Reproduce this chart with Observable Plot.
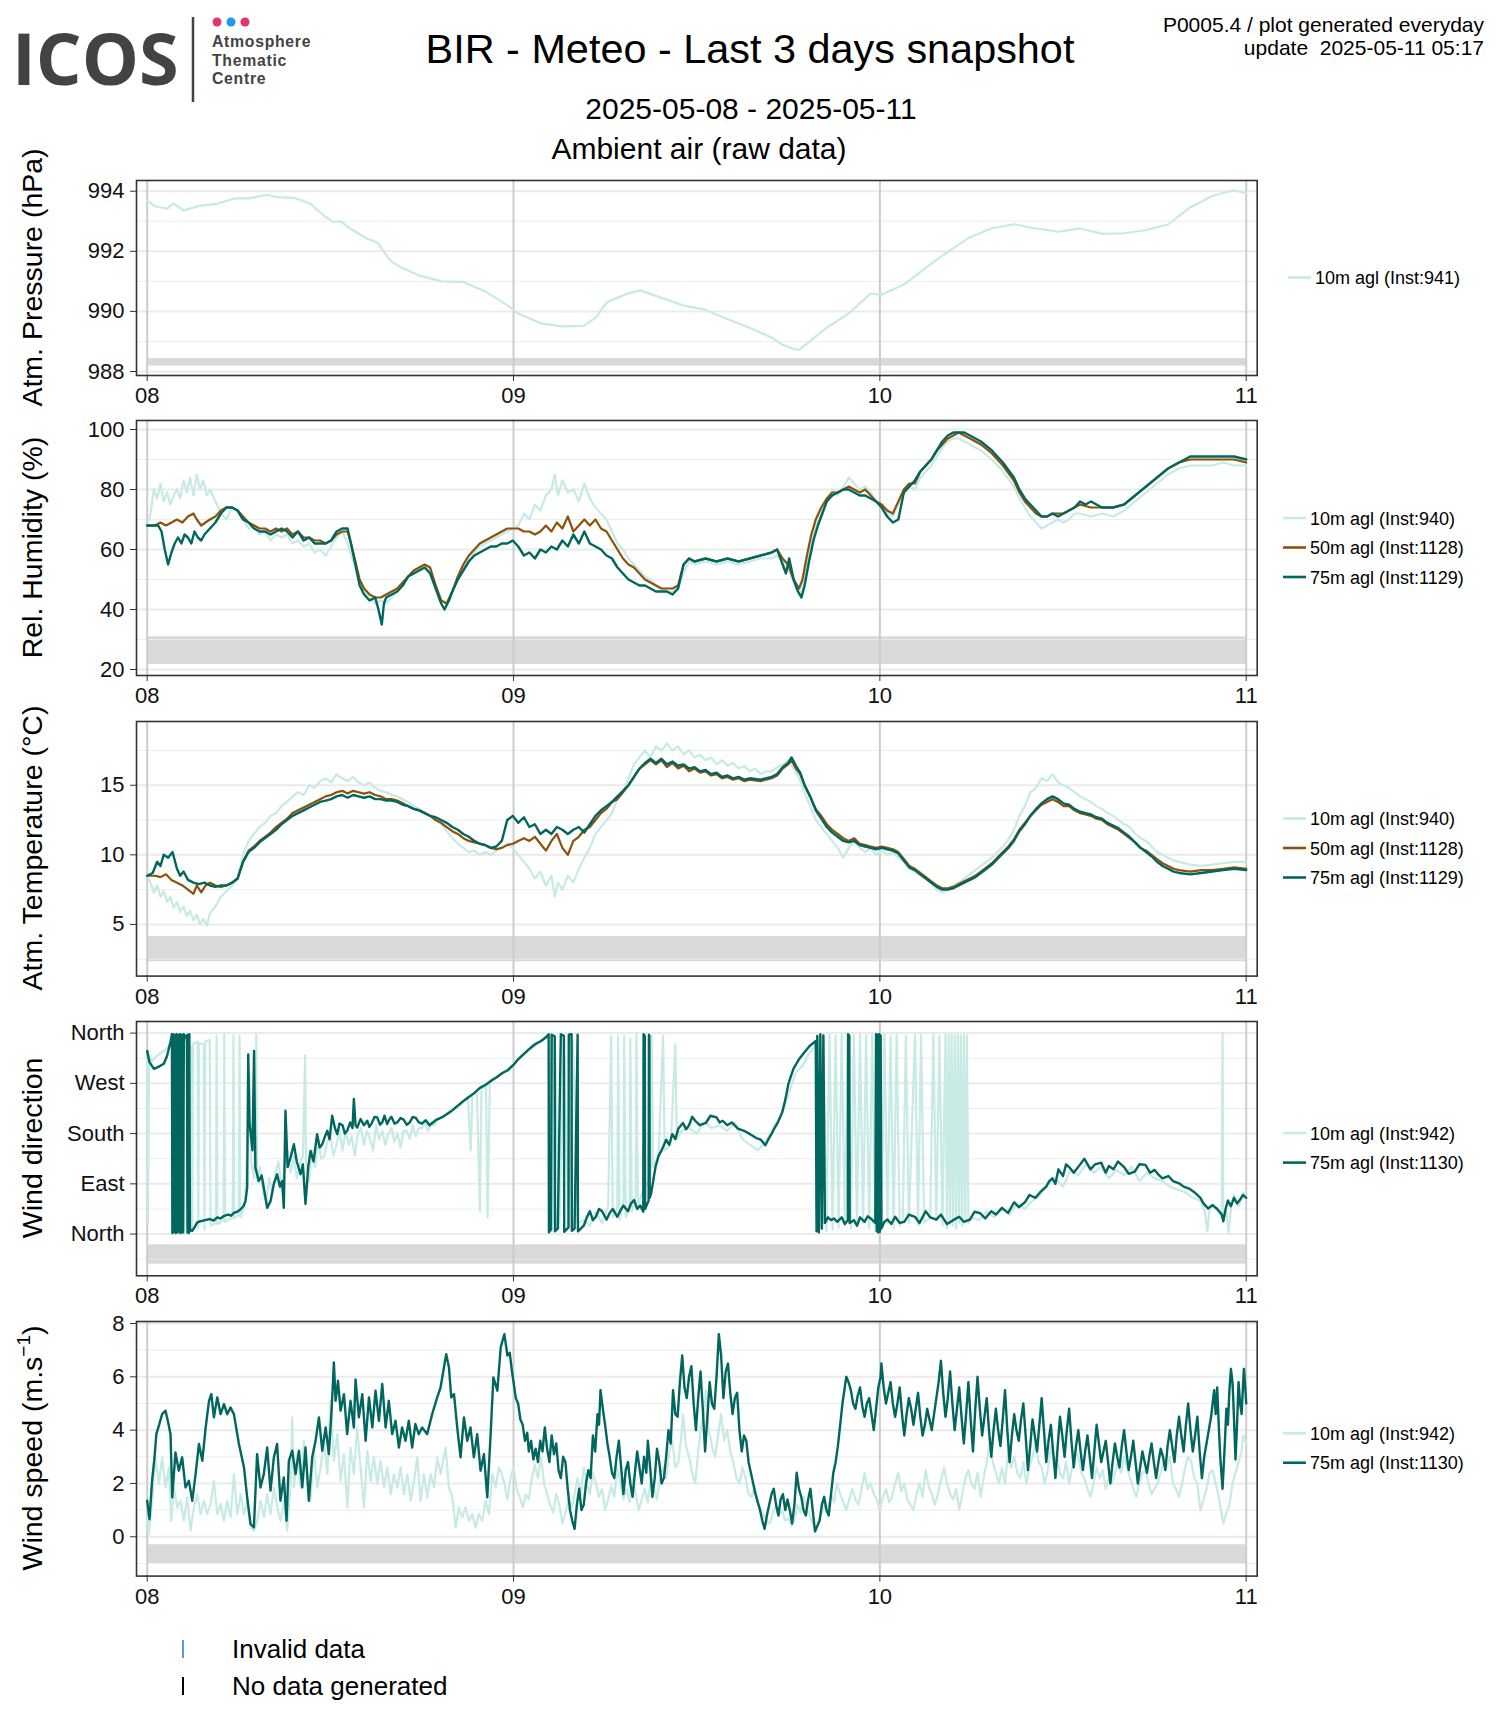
<!DOCTYPE html>
<html><head><meta charset="utf-8">
<script src="https://cdn.jsdelivr.net/npm/d3@7"></script>
<script src="https://cdn.jsdelivr.net/npm/@observablehq/plot@0.6"></script>
<style>
body{margin:0;background:#fff;}
#page{position:relative;width:1500px;height:1725px;overflow:hidden;background:#fff;font-family:"Liberation Sans",Arial,sans-serif;}
#page svg{position:absolute;left:0;}
</style></head><body><div id="page"></div>
<script>
// ---------- axis / category data ----------
const dayTicks = [0, 24, 48, 72];
const dayLabels = ["08", "09", "10", "11"];
const presTicks = [988, 990, 992, 994], presMinor = [989, 991, 993], presBand = [988.18, 988.43];
const rhTicks = [20, 40, 60, 80, 100], rhMinor = [30, 50, 70, 90], rhBand = [21.7, 30.9];
const tempTicks = [5, 10, 15], tempMinor = [2.5, 7.5, 12.5, 17.5], tempBand = [2.32, 4.14];
const dirTicks = [0, 90, 180, 270, 360], dirLabels = ["North", "East", "South", "West", "North"], dirMinor = [-45, 45, 135, 225, 315], dirBand = [-53.8, -19.2];
const wsTicks = [0, 2, 4, 6, 8], wsMinor = [-1, 1, 3, 5, 7], wsBand = [-1.02, -0.3];
const legendPres = ["10m agl (Inst:941)"];
const legendRH = ["10m agl (Inst:940)", "50m agl (Inst:1128)", "75m agl (Inst:1129)"];
const legendTemp = ["10m agl (Inst:940)", "50m agl (Inst:1128)", "75m agl (Inst:1129)"];
const legendWind = ["10m agl (Inst:942)", "75m agl (Inst:1130)"];

// ---------- series: [hours since 2025-05-08 00:00, value] ----------
const pres10 = [[0,993.69],[0.5,993.5],[1.31,993.42],[1.72,993.59],[2.38,993.36],[3.49,993.52],[4.57,993.58],[5.66,993.75],[6.77,993.77],[7.86,993.88],[8.52,993.8],[9.6,993.78],[10.7,993.58],[11.57,993.19],[12.2,992.97],[12.67,993.0],[13.32,992.75],[14.42,992.42],[15.07,992.3],[15.94,991.69],[16.6,991.47],[17.8,991.2],[19.3,991.0],[20.7,990.98],[22.2,990.65],[23.6,990.2],[24.3,989.93],[25.8,989.6],[27.2,989.5],[28.6,989.52],[29.4,989.8],[30.1,990.3],[31.5,990.6],[32.3,990.7],[33.7,990.45],[35.1,990.2],[36.6,990.05],[38.0,989.75],[39.5,989.45],[40.9,989.13],[41.6,988.9],[42.35,988.75],[42.7,988.72],[43.4,989.0],[44.5,989.45],[45.96,989.93],[47.4,990.6],[48.1,990.55],[49.6,990.9],[51.0,991.45],[52.5,992.0],[53.9,992.47],[55.3,992.76],[56.8,992.9],[58.2,992.76],[59.7,992.65],[61.1,992.76],[62.6,992.58],[64.0,992.6],[65.4,992.7],[66.9,992.9],[68.3,993.45],[69.8,993.85],[71.2,994.03],[72,993.93]];

const rh10 = [[0,68],[0.22,72],[0.43,80],[0.65,77],[0.87,82],[1.08,76],[1.3,79],[1.52,75],[1.73,78],[1.95,80],[2.16,77],[2.38,83],[2.6,79],[2.81,84],[3.03,78],[3.25,85],[3.46,80],[3.68,83],[3.9,78],[4.11,80],[4.47,76],[4.83,72],[5.19,70],[5.56,74],[5.92,73],[6.28,70],[6.64,67],[7.0,68],[7.36,65],[7.72,66],[8.08,63],[8.44,65],[8.8,64],[9.16,65],[9.52,62],[9.88,63],[10.25,61],[10.61,62],[10.97,59],[11.33,60],[11.69,58],[12.05,61],[12.41,64],[12.77,66],[13.13,62],[13.49,56],[13.85,50],[14.21,46],[14.57,44],[14.94,42],[15.3,43],[15.66,42],[16.02,44],[16.38,46],[16.74,48],[17.1,51],[17.46,53],[17.82,54],[18.18,55],[18.54,53],[18.9,48],[19.26,43],[19.62,42],[19.99,46],[20.35,50],[20.71,54],[21.07,57],[21.43,59],[21.79,61],[22.15,62],[22.51,63],[22.87,64],[23.23,65],[23.59,66],[23.95,67],[24.31,68],[24.68,72],[25.04,70],[25.4,75],[25.76,73],[26.12,78],[26.48,80],[26.7,85],[26.91,78],[27.2,83],[27.56,79],[27.92,80],[28.28,76],[28.64,82],[29.0,77],[29.37,74],[29.73,72],[30.09,70],[30.45,66],[30.81,62],[31.17,60],[31.53,57],[31.89,55],[32.25,53],[32.61,51],[32.97,50],[33.33,48],[33.69,47],[34.05,46],[34.42,46],[34.78,47],[35.14,52],[35.5,56],[35.86,55],[36.58,56],[37.3,55],[38.02,56],[38.74,55],[39.47,56],[40.19,57],[40.91,57],[41.27,58],[41.63,56],[41.99,54],[42.35,49],[42.71,45],[42.93,47],[43.22,55],[43.51,62],[43.8,68],[44.16,72],[44.52,76],[44.88,80],[45.24,78],[45.6,81],[45.96,84],[46.32,82],[46.68,80],[47.04,81],[47.4,79],[47.76,76],[48.12,74],[48.48,72],[48.85,71],[49.21,75],[49.57,79],[49.93,81],[50.29,80],[50.65,84],[51.01,86],[51.37,88],[51.73,91],[52.09,94],[52.45,96],[52.81,97],[53.17,97],[53.53,96],[53.9,95],[54.62,93],[55.34,90],[56.06,86],[56.78,81],[57.14,77],[57.5,74],[57.86,71],[58.23,69],[58.59,67],[58.95,68],[59.31,69],[59.67,70],[60.03,69],[60.39,70],[60.75,72],[61.11,72],[61.83,71],[62.55,72],[63.28,71],[64.0,73],[64.72,76],[65.44,79],[66.16,82],[66.88,85],[67.6,87],[68.33,88],[69.05,88],[69.77,88],[70.49,89],[71.21,88],[72,88]];

const rh50 = [[0,68],[0.51,68],[0.87,69],[1.23,68],[1.59,69],[1.95,70],[2.31,69],[2.67,71],[3.03,72],[3.25,70],[3.54,68],[3.82,69],[4.11,70],[4.47,71],[4.83,73],[5.19,74],[5.56,74],[5.92,73],[6.28,71],[6.64,69],[7.0,68],[7.36,67],[7.72,67],[8.08,66],[8.44,67],[8.8,66],[9.16,67],[9.52,65],[9.88,66],[10.25,64],[10.61,64],[10.97,63],[11.33,63],[11.69,62],[12.05,63],[12.41,65],[12.77,66],[13.13,66],[13.35,62],[13.64,56],[13.92,50],[14.21,47],[14.57,45],[14.94,44],[15.3,44],[15.66,45],[16.02,46],[16.38,47],[16.74,49],[17.1,51],[17.46,53],[17.82,54],[18.18,55],[18.54,54],[18.9,48],[19.26,43],[19.62,42],[19.99,46],[20.35,51],[20.71,55],[21.07,58],[21.43,60],[21.79,62],[22.15,63],[22.51,64],[22.87,65],[23.23,66],[23.59,67],[23.95,67],[24.31,67],[24.68,66],[25.04,66],[25.4,65],[25.76,66],[26.12,68],[26.48,66],[26.84,69],[27.2,67],[27.56,71],[27.92,66],[28.28,68],[28.64,70],[29.0,68],[29.37,70],[29.73,67],[30.09,66],[30.45,63],[30.81,60],[31.17,57],[31.53,55],[31.89,54],[32.25,52],[32.61,50],[32.97,49],[33.33,48],[33.69,47],[34.05,47],[34.42,47],[34.78,48],[35.14,55],[35.5,57],[35.86,56],[36.58,57],[37.3,56],[38.02,57],[38.74,56],[39.47,57],[40.19,58],[40.91,59],[41.27,60],[41.63,57],[41.99,55],[42.35,50],[42.71,47],[42.93,50],[43.22,58],[43.51,65],[43.8,70],[44.16,74],[44.52,77],[44.88,79],[45.24,79],[45.6,80],[45.96,81],[46.32,80],[46.68,79],[47.04,80],[47.4,78],[47.76,76],[48.12,75],[48.48,73],[48.85,72],[49.21,76],[49.57,80],[49.93,82],[50.29,82],[50.65,86],[51.01,88],[51.37,90],[51.73,93],[52.09,95],[52.45,97],[52.81,98],[53.17,99],[53.53,98],[53.9,97],[54.62,95],[55.34,92],[56.06,88],[56.78,83],[57.14,79],[57.5,76],[57.86,74],[58.23,72],[58.59,71],[58.95,71],[59.31,72],[59.67,72],[60.03,72],[60.39,73],[60.75,74],[61.11,75],[61.83,74],[62.55,74],[63.28,74],[64.0,75],[64.72,78],[65.44,81],[66.16,84],[66.88,87],[67.6,89],[68.33,90],[69.05,90],[69.77,90],[70.49,90],[71.21,90],[72,89]];

const rh75 = [[0,68],[0.36,68],[0.72,68],[0.94,66],[1.15,60],[1.37,55],[1.59,59],[1.8,62],[2.02,64],[2.24,62],[2.45,65],[2.67,64],[2.89,62],[3.1,66],[3.32,64],[3.54,63],[3.75,65],[4.11,67],[4.47,69],[4.83,72],[5.19,74],[5.56,74],[5.92,73],[6.28,70],[6.64,69],[7.0,67],[7.36,66],[7.72,66],[8.08,65],[8.44,66],[8.8,67],[9.16,66],[9.52,64],[9.88,66],[10.25,63],[10.61,64],[10.97,62],[11.33,62],[11.69,62],[12.05,63],[12.41,66],[12.77,67],[13.13,67],[13.35,62],[13.64,55],[13.92,48],[14.21,45],[14.57,43],[14.94,44],[15.15,40],[15.37,35],[15.51,42],[15.66,44],[16.02,45],[16.38,46],[16.74,48],[17.1,51],[17.46,52],[17.82,53],[18.18,54],[18.54,52],[18.9,47],[19.26,42],[19.48,40],[19.77,43],[19.99,46],[20.35,50],[20.71,53],[21.07,56],[21.43,58],[21.79,59],[22.15,60],[22.51,61],[22.87,61],[23.23,62],[23.59,62],[23.95,63],[24.31,61],[24.68,58],[25.04,59],[25.4,57],[25.76,60],[26.12,59],[26.48,61],[26.84,60],[27.2,63],[27.56,61],[27.92,65],[28.28,62],[28.64,66],[29.0,62],[29.37,61],[29.73,60],[30.09,58],[30.45,57],[30.81,54],[31.17,52],[31.53,50],[31.89,49],[32.25,48],[32.61,48],[32.97,47],[33.33,46],[33.69,46],[34.05,46],[34.42,45],[34.78,47],[35.14,55],[35.5,57],[35.86,56],[36.58,57],[37.3,56],[38.02,57],[38.74,56],[39.47,57],[40.19,58],[40.91,59],[41.27,60],[41.63,55],[41.85,52],[42.06,57],[42.35,50],[42.64,46],[42.86,44],[43.07,48],[43.36,56],[43.65,63],[43.94,68],[44.23,72],[44.52,76],[44.88,78],[45.24,79],[45.6,80],[45.96,80],[46.32,79],[46.68,78],[47.04,78],[47.4,77],[47.76,76],[48.12,74],[48.48,71],[48.85,69],[49.21,70],[49.57,79],[49.93,81],[50.29,83],[50.65,86],[51.01,88],[51.37,90],[51.73,93],[52.09,96],[52.45,98],[52.81,99],[53.17,99],[53.53,99],[53.9,98],[54.62,96],[55.34,93],[56.06,89],[56.78,84],[57.14,80],[57.5,77],[57.86,75],[58.23,73],[58.59,71],[58.95,71],[59.31,72],[59.67,71],[60.03,72],[60.39,73],[60.75,74],[61.11,76],[61.47,75],[61.83,76],[62.55,74],[63.28,74],[64.0,75],[64.72,78],[65.44,81],[66.16,84],[66.88,87],[67.6,89],[68.33,91],[69.05,91],[69.77,91],[70.49,91],[71.21,91],[72,90]];

const temp10 = [[0,8.5],[0.22,8],[0.43,7.3],[0.65,7.8],[0.87,7],[1.08,7.4],[1.3,6.6],[1.52,7],[1.73,6.2],[1.95,6.6],[2.16,5.9],[2.38,6.3],[2.6,5.6],[2.81,6],[3.03,5.3],[3.25,5.7],[3.46,5],[3.68,5.4],[3.9,4.9],[4.11,5.8],[4.47,6.3],[4.83,7],[5.19,7.4],[5.56,7.8],[5.92,8.3],[6.28,10],[6.64,11],[7.0,11.5],[7.36,12],[7.72,12.3],[8.08,12.8],[8.44,13],[8.8,13.5],[9.16,13.8],[9.52,14.2],[9.88,14.5],[10.25,14.3],[10.61,15],[10.97,14.8],[11.33,15.3],[11.69,15.5],[12.05,15.2],[12.41,15.8],[12.77,15.5],[13.13,15.3],[13.49,15.6],[13.85,15.2],[14.21,15],[14.57,15.2],[14.94,14.8],[15.3,14.6],[15.66,14.5],[16.02,14.3],[16.38,14.2],[16.74,14],[17.1,13.8],[17.46,13.5],[17.82,13.3],[18.18,13],[18.54,12.8],[18.9,12.5],[19.26,12.2],[19.62,11.7],[19.99,11.2],[20.35,10.8],[20.71,10.5],[21.07,10.2],[21.43,10.3],[21.79,10],[22.15,10.2],[22.51,10],[22.87,10.3],[23.23,10.5],[23.59,10.8],[23.95,10.5],[24.31,10],[24.68,9.5],[25.04,9],[25.4,8.3],[25.76,8.8],[26.12,7.8],[26.48,8.5],[26.7,7],[26.91,8],[27.2,7.5],[27.56,8.5],[27.92,8],[28.28,9],[28.64,9.8],[29.0,10.5],[29.37,11.5],[29.73,12],[30.09,12.5],[30.45,13],[30.81,14],[31.17,14.5],[31.53,15.5],[31.89,16.5],[32.25,17],[32.61,17.5],[32.97,17],[33.33,17.8],[33.69,17.5],[34.05,18],[34.42,17.5],[34.78,17.8],[35.14,17.2],[35.5,17.5],[35.86,17],[36.22,17.2],[36.58,16.8],[36.94,17],[37.3,16.5],[37.66,16.8],[38.02,16.4],[38.38,16.6],[38.74,16.2],[39.11,16.4],[39.47,16],[39.83,16.2],[40.19,15.8],[40.55,16],[40.91,16],[41.27,16.3],[41.63,16.5],[41.99,16.8],[42.35,16.2],[42.71,15.5],[43.07,14.5],[43.43,13.5],[43.8,12.5],[44.16,12],[44.52,11.5],[44.88,11],[45.24,10.5],[45.6,9.8],[45.96,10.5],[46.32,11],[46.68,10.5],[47.04,10.2],[47.4,10.5],[47.76,10],[48.12,10.3],[48.48,10],[48.85,10.2],[49.21,9.8],[49.57,9.5],[49.93,9],[50.29,8.8],[50.65,8.5],[51.01,8.3],[51.37,8],[51.73,7.5],[52.09,7.3],[52.45,7.5],[52.81,7.8],[53.17,8],[53.53,8.3],[53.9,8.6],[54.26,8.9],[54.62,9.2],[54.98,9.5],[55.34,9.8],[55.7,10.2],[56.06,10.6],[56.42,11.1],[56.78,11.8],[57.14,12.8],[57.5,13.5],[57.86,14.5],[58.23,14.8],[58.59,15.5],[58.95,15.3],[59.31,15.8],[59.67,15.2],[60.03,15],[60.39,14.8],[60.75,14.5],[61.11,14.2],[61.47,14],[61.83,13.8],[62.19,13.5],[62.55,13.3],[62.91,13],[63.28,12.8],[63.64,12.5],[64.0,12.2],[64.36,12],[64.72,11.5],[65.08,11.2],[65.44,11],[65.8,10.6],[66.16,10.2],[66.52,10],[66.88,9.8],[67.24,9.6],[67.6,9.5],[68.33,9.3],[69.05,9.2],[69.77,9.3],[70.49,9.4],[71.21,9.5],[72,9.5]];

const temp50 = [[0,8.5],[0.51,8.5],[0.87,8.4],[1.23,8.6],[1.59,8.2],[1.95,8],[2.31,7.8],[2.67,7.5],[3.03,7.2],[3.25,7.8],[3.54,7.3],[3.82,7.8],[4.11,8],[4.47,7.8],[4.83,7.7],[5.19,7.8],[5.56,8],[5.92,8.3],[6.28,9.5],[6.64,10.3],[7.0,10.6],[7.36,11],[7.72,11.3],[8.08,11.6],[8.44,12],[8.8,12.3],[9.16,12.6],[9.52,13],[9.88,13.2],[10.25,13.4],[10.61,13.6],[10.97,13.8],[11.33,14],[11.69,14.2],[12.05,14.3],[12.41,14.5],[12.77,14.6],[13.13,14.4],[13.49,14.6],[13.85,14.5],[14.21,14.4],[14.57,14.5],[14.94,14.3],[15.3,14.2],[15.66,14],[16.02,14],[16.38,13.9],[16.74,13.7],[17.1,13.5],[17.46,13.3],[17.82,13.2],[18.18,13],[18.54,12.8],[18.9,12.5],[19.26,12.3],[19.62,12],[19.99,11.7],[20.35,11.5],[20.71,11.2],[21.07,11],[21.43,10.9],[21.79,10.8],[22.15,10.7],[22.51,10.5],[22.87,10.4],[23.23,10.5],[23.59,10.7],[23.95,10.8],[24.31,11],[24.68,11.2],[25.04,11],[25.4,11.3],[25.76,10.8],[26.12,10.3],[26.48,11],[26.84,11.5],[27.2,10.5],[27.56,10],[27.92,11],[28.28,11.3],[28.64,11.8],[29.0,12],[29.37,12.5],[29.73,13],[30.09,13.3],[30.45,13.8],[30.81,14],[31.17,14.5],[31.53,15],[31.89,15.6],[32.25,16.2],[32.61,16.5],[32.97,16.8],[33.33,16.5],[33.69,16.8],[34.05,16.3],[34.42,16.6],[34.78,16.2],[35.14,16.4],[35.5,16],[35.86,16.2],[36.22,15.9],[36.58,16],[36.94,15.7],[37.3,15.8],[37.66,15.5],[38.02,15.6],[38.38,15.4],[38.74,15.5],[39.11,15.3],[39.47,15.4],[40.19,15.3],[40.91,15.5],[41.27,15.7],[41.63,16.2],[41.99,16.5],[42.21,16.8],[42.5,16.2],[42.78,15.8],[43.07,15],[43.43,14.2],[43.8,13.3],[44.16,12.8],[44.52,12.2],[44.88,11.8],[45.24,11.5],[45.6,11.2],[45.96,11],[46.32,11.2],[46.68,10.8],[47.04,10.7],[47.4,10.6],[47.76,10.5],[48.12,10.6],[48.48,10.5],[48.85,10.4],[49.21,10.2],[49.57,9.7],[49.93,9.2],[50.29,9],[50.65,8.7],[51.01,8.4],[51.37,8.1],[51.73,7.8],[52.09,7.6],[52.45,7.6],[52.81,7.7],[53.17,7.9],[53.53,8.1],[53.9,8.3],[54.26,8.5],[54.62,8.8],[54.98,9.1],[55.34,9.4],[55.7,9.8],[56.06,10.2],[56.42,10.6],[56.78,11.1],[57.14,11.8],[57.5,12.3],[57.86,12.8],[58.23,13.2],[58.59,13.6],[58.95,13.8],[59.31,14],[59.67,13.8],[60.03,13.5],[60.39,13.5],[60.75,13.2],[61.11,13],[61.47,12.9],[61.83,12.8],[62.19,12.6],[62.55,12.5],[62.91,12.2],[63.28,12],[63.64,11.8],[64.0,11.5],[64.36,11.2],[64.72,10.9],[65.08,10.5],[65.44,10.3],[65.8,10],[66.16,9.7],[66.52,9.4],[66.88,9.2],[67.24,9],[67.6,8.9],[68.33,8.8],[69.05,8.9],[69.77,8.9],[70.49,9],[71.21,9.1],[72,9]];

const temp75 = [[0,8.5],[0.36,8.7],[0.65,9.5],[0.87,9.2],[1.08,10],[1.37,9.8],[1.66,10.2],[1.95,9],[2.16,8.5],[2.38,8.8],[2.67,8.2],[3.03,8],[3.39,7.9],[3.75,8],[4.11,7.8],[4.47,7.7],[4.83,7.8],[5.19,7.8],[5.56,8],[5.92,8.3],[6.28,9.5],[6.64,10.2],[7.0,10.5],[7.36,10.9],[7.72,11.2],[8.08,11.5],[8.44,11.8],[8.8,12.2],[9.16,12.5],[9.52,12.8],[9.88,13],[10.25,13.2],[10.61,13.4],[10.97,13.6],[11.33,13.8],[11.69,13.9],[12.05,14],[12.41,14.2],[12.77,14.3],[13.13,14.1],[13.49,14.3],[13.85,14.2],[14.21,14.1],[14.57,14.2],[14.94,14],[15.3,14],[15.66,13.9],[16.02,13.9],[16.38,13.8],[16.74,13.6],[17.1,13.5],[17.46,13.3],[17.82,13.2],[18.18,13],[18.54,12.8],[18.9,12.7],[19.26,12.5],[19.62,12.3],[19.99,12],[20.35,11.8],[20.71,11.5],[21.07,11.3],[21.43,11],[21.79,10.8],[22.15,10.7],[22.51,10.5],[22.87,10.6],[23.23,11],[23.59,12.5],[23.95,12.8],[24.31,12.3],[24.68,12.7],[25.04,12],[25.4,12.2],[25.76,11.5],[26.12,11.8],[26.48,11.5],[26.84,12],[27.2,11.8],[27.56,11.5],[27.92,11.8],[28.28,12],[28.64,11.6],[29.0,12.2],[29.37,12.8],[29.73,13.2],[30.09,13.5],[30.45,13.8],[30.81,14.2],[31.17,14.6],[31.53,15],[31.89,15.6],[32.25,16.2],[32.61,16.6],[32.97,16.9],[33.33,16.6],[33.69,16.9],[34.05,16.5],[34.42,16.7],[34.78,16.4],[35.14,16.5],[35.5,16.2],[35.86,16.3],[36.22,16],[36.58,16.1],[36.94,15.8],[37.3,15.9],[37.66,15.6],[38.02,15.7],[38.38,15.5],[38.74,15.6],[39.11,15.4],[39.47,15.5],[40.19,15.4],[40.91,15.6],[41.27,15.8],[41.63,16.3],[41.99,16.6],[42.21,17],[42.5,16.4],[42.78,15.9],[43.07,15],[43.43,14.2],[43.8,13.2],[44.16,12.6],[44.52,12],[44.88,11.6],[45.24,11.3],[45.6,11],[45.96,10.9],[46.32,11],[46.68,10.7],[47.04,10.6],[47.4,10.5],[47.76,10.4],[48.12,10.5],[48.48,10.4],[48.85,10.3],[49.21,10.1],[49.57,9.6],[49.93,9.1],[50.29,8.9],[50.65,8.6],[51.01,8.3],[51.37,8],[51.73,7.7],[52.09,7.5],[52.45,7.5],[52.81,7.6],[53.17,7.8],[53.53,8],[53.9,8.2],[54.26,8.4],[54.62,8.7],[54.98,9],[55.34,9.3],[55.7,9.7],[56.06,10.1],[56.42,10.5],[56.78,11],[57.14,11.7],[57.5,12.2],[57.86,12.8],[58.23,13.3],[58.59,13.7],[58.95,14],[59.31,14.2],[59.67,14],[60.03,13.7],[60.39,13.6],[60.75,13.3],[61.11,13.1],[61.47,13],[61.83,12.9],[62.19,12.7],[62.55,12.6],[62.91,12.3],[63.28,12.1],[63.64,11.9],[64.0,11.6],[64.36,11.3],[64.72,10.9],[65.08,10.5],[65.44,10.2],[65.8,9.9],[66.16,9.5],[66.52,9.2],[66.88,9],[67.24,8.8],[67.6,8.7],[68.33,8.6],[69.05,8.7],[69.77,8.8],[70.49,8.9],[71.21,9],[72,8.9]];

const wd10 = [[0,330],[0.05,20],[0.12,320],[0.3,310],[0.6,318],[0.9,325],[1.2,330],[1.5,340],[1.8,345],[2.1,340],[2.4,350],[2.6,345],[2.75,338],[2.9,335],[2.95,5],[3.0,340],[3.3,345],[3.35,10],[3.4,342],[3.7,340],[3.75,8],[3.8,345],[4.1,348],[4.15,15],[4.5,20],[4.55,355],[4.6,18],[5.0,25],[5.05,358],[5.1,22],[5.6,30],[5.65,356],[5.7,28],[6.0,35],[6.05,355],[6.1,30],[6.4,50],[6.6,200],[6.7,290],[6.8,130],[7.0,100],[7.15,358],[7.2,95],[7.4,120],[7.6,70],[7.8,60],[8.0,100],[8.2,75],[8.4,110],[8.6,130],[8.8,80],[9.0,120],[9.2,150],[9.4,110],[9.6,140],[9.8,100],[10.0,125],[10.2,140],[10.35,320],[10.4,130],[10.6,95],[10.8,150],[11.0,120],[11.2,170],[11.4,135],[11.6,140],[11.8,165],[12.0,175],[12.2,140],[12.4,160],[12.6,185],[12.8,150],[13.0,185],[13.2,160],[13.4,175],[13.6,140],[13.8,180],[14.0,190],[14.2,160],[14.4,185],[14.6,170],[14.8,150],[15.0,195],[15.2,170],[15.4,185],[15.6,160],[15.8,180],[16.0,190],[16.2,165],[16.4,180],[16.6,155],[16.8,185],[17.0,185],[17.2,170],[17.4,195],[17.6,175],[17.8,190],[18.0,190],[18.2,200],[18.4,185],[18.6,200],[18.8,195],[19.0,205],[19.3,210],[19.6,215],[19.9,218],[20.2,225],[20.5,230],[20.8,240],[21.0,245],[21.2,150],[21.3,250],[21.6,255],[21.8,40],[21.9,260],[22.2,265],[22.3,30],[22.45,270],[22.8,280],[23.3,290],[23.8,300],[24.3,312],[24.8,325],[25.3,335],[25.8,345],[26.2,352],[26.5,358],[26.55,5],[26.7,355],[27.0,10],[27.3,350],[27.6,15],[27.9,345],[28.2,20],[28.6,25],[29.0,15],[29.4,40],[29.8,20],[30.2,50],[30.4,355],[30.5,30],[30.8,45],[30.85,355],[30.95,25],[31.2,60],[31.25,355],[31.35,30],[31.6,50],[31.65,350],[31.75,40],[32.0,70],[32.05,360],[32.15,50],[32.5,80],[33.0,100],[33.05,355],[33.15,120],[33.5,140],[33.8,355],[33.9,150],[34.3,160],[34.6,340],[34.7,170],[35.0,185],[35.5,190],[36.0,180],[36.5,200],[37.0,190],[37.5,195],[38.0,185],[38.5,200],[39.0,170],[39.5,160],[40.0,150],[40.5,165],[41.0,190],[41.5,210],[42.0,250],[42.5,290],[42.9,300],[43.3,320],[43.7,335],[44.0,350],[44.1,10],[44.3,355],[44.5,5],[44.7,358],[44.9,8],[45.1,355],[45.3,12],[45.5,358],[45.7,15],[45.9,358],[46.1,10],[46.3,356],[46.5,15],[46.7,358],[46.9,20],[47.1,355],[47.3,10],[47.5,358],[47.7,5],[47.9,355],[48.1,15],[48.3,358],[48.5,20],[48.7,355],[48.9,10],[49.1,358],[49.3,15],[49.5,25],[49.7,355],[49.9,20],[50.3,358],[50.5,15],[50.7,356],[50.9,20],[51.3,30],[51.5,358],[51.7,25],[51.9,355],[52.1,15],[52.3,358],[52.4,10],[52.5,356],[52.6,20],[52.7,358],[52.8,15],[52.9,355],[53.0,10],[53.1,358],[53.2,20],[53.3,356],[53.4,15],[53.5,358],[53.6,25],[53.7,355],[53.8,20],[54.0,30],[54.5,25],[55.0,40],[55.5,30],[56.0,45],[56.5,35],[57.0,55],[57.5,45],[58.0,60],[58.5,70],[59.0,90],[59.5,100],[60.0,85],[60.5,115],[61.0,105],[61.5,125],[62.0,110],[62.5,120],[63.0,100],[63.5,115],[64.0,105],[64.5,120],[65.0,95],[65.5,110],[66.0,100],[66.5,95],[67.0,85],[67.5,80],[68.0,75],[68.5,65],[69.0,60],[69.3,40],[69.45,5],[69.6,45],[69.9,50],[70.2,40],[70.4,30],[70.45,360],[70.5,25],[70.7,40],[70.85,3],[71.0,45],[71.2,70],[71.5,50],[71.8,75],[72.0,65]];

const wd75 = [[0,328],[0.15,308],[0.44,296],[0.76,300],[1.09,305],[1.31,320],[1.53,345],[1.62,358],[1.65,2],[1.68,358],[1.72,3],[1.76,357],[1.8,5],[1.84,356],[1.88,2],[1.92,358],[1.96,4],[2.0,357],[2.04,3],[2.08,356],[2.12,5],[2.16,358],[2.2,2],[2.24,355],[2.28,4],[2.32,357],[2.36,3],[2.4,358],[2.5,352],[2.6,356],[2.64,3],[2.68,357],[2.72,2],[2.76,358],[2.8,5],[2.84,8],[2.95,6],[3.1,12],[3.28,21],[3.49,23],[3.8,25],[4.1,27],[4.35,24],[4.59,30],[4.8,28],[5.0,32],[5.3,35],[5.5,33],[5.68,38],[5.9,40],[6.11,44],[6.3,50],[6.44,59],[6.55,83],[6.62,322],[6.7,200],[6.9,150],[7.0,328],[7.09,119],[7.31,95],[7.5,105],[7.64,83],[7.86,47],[8.08,59],[8.3,90],[8.51,107],[8.7,85],[8.84,95],[8.95,47],[9.06,221],[9.2,120],[9.39,137],[9.61,161],[9.8,130],[10.05,107],[10.2,125],[10.37,54],[10.55,120],[10.7,149],[10.9,130],[11.13,179],[11.3,155],[11.47,161],[11.65,175],[11.8,185],[11.95,170],[12.12,212],[12.3,190],[12.45,179],[12.6,198],[12.8,195],[12.95,180],[13.1,185],[13.3,200],[13.45,190],[13.54,242],[13.65,195],[13.76,191],[13.98,206],[14.2,195],[14.42,203],[14.55,192],[14.7,198],[14.9,210],[15.07,209],[15.25,196],[15.4,200],[15.55,212],[15.72,197],[15.85,205],[16.0,210],[16.2,198],[16.38,200],[16.6,208],[16.8,205],[17.0,196],[17.2,200],[17.4,210],[17.6,208],[17.8,200],[18.0,198],[18.25,204],[18.5,195],[18.9,204],[19.3,209],[19.65,215],[20.0,222],[20.35,230],[20.7,238],[21.05,245],[21.4,252],[21.8,262],[22.2,268],[22.55,275],[22.9,281],[23.25,288],[23.6,293],[24.0,303],[24.3,313],[24.65,322],[25.0,331],[25.4,340],[25.8,346],[26.1,352],[26.3,358],[26.32,3],[26.45,8],[26.5,357],[26.7,354],[26.72,5],[26.9,10],[27.1,358],[27.3,355],[27.32,4],[27.6,12],[27.62,357],[27.8,358],[27.82,6],[28.0,10],[28.2,357],[28.22,5],[28.6,15],[28.8,30],[29.0,41],[29.2,25],[29.4,31],[29.6,45],[29.8,41],[30.1,26],[30.3,38],[30.5,45],[30.8,31],[31.0,42],[31.2,51],[31.5,41],[31.7,55],[31.9,61],[32.1,45],[32.3,51],[32.5,40],[32.52,358],[32.6,355],[32.62,45],[32.85,60],[32.87,357],[32.9,355],[32.92,65],[33.0,71],[33.15,95],[33.3,120],[33.5,140],[33.7,150],[34.0,169],[34.2,160],[34.4,179],[34.6,170],[34.8,189],[35.1,199],[35.3,188],[35.5,195],[35.7,210],[35.9,203],[36.2,195],[36.6,199],[36.9,212],[37.3,209],[37.5,200],[37.7,203],[38.0,195],[38.3,200],[38.7,189],[39.1,185],[39.5,179],[39.9,172],[40.2,169],[40.5,159],[40.7,170],[40.9,179],[41.1,190],[41.3,199],[41.6,218],[41.8,240],[42.0,268],[42.2,285],[42.35,297],[42.7,313],[43.1,327],[43.4,337],[43.8,346],[43.85,5],[43.9,355],[44.0,3],[44.1,358],[44.2,10],[44.3,356],[44.4,20],[44.6,30],[44.8,25],[45.0,28],[45.2,22],[45.5,30],[45.7,18],[45.9,25],[45.92,358],[46.0,355],[46.02,20],[46.3,25],[46.5,15],[46.7,30],[47.0,22],[47.2,32],[47.4,28],[47.7,20],[47.75,358],[47.8,5],[47.85,357],[47.9,3],[47.95,358],[48.0,4],[48.05,356],[48.1,10],[48.3,22],[48.5,26],[48.75,18],[49.0,31],[49.3,20],[49.6,22],[49.9,35],[50.3,31],[50.6,20],[51.0,41],[51.3,30],[51.7,26],[52.0,35],[52.4,18],[52.8,25],[53.2,31],[53.5,22],[53.9,26],[54.2,40],[54.6,37],[54.9,28],[55.3,41],[55.6,35],[56.0,47],[56.4,38],[56.8,57],[57.1,48],[57.5,57],[57.8,70],[58.2,65],[58.5,75],[58.9,85],[59.1,95],[59.3,100],[59.5,90],[59.7,116],[60.0,104],[60.2,125],[60.4,120],[60.7,110],[61.1,124],[61.4,135],[61.8,116],[62.1,125],[62.5,128],[62.8,110],[63.0,122],[63.3,116],[63.6,130],[64.0,120],[64.3,108],[64.7,112],[65.0,125],[65.4,124],[65.7,110],[66.0,115],[66.2,108],[66.5,100],[66.9,104],[67.2,95],[67.6,91],[67.9,85],[68.3,81],[68.6,75],[69.0,65],[69.2,55],[69.5,46],[69.8,52],[70.1,45],[70.4,35],[70.5,23],[70.65,45],[70.8,60],[71.0,50],[71.2,65],[71.4,55],[71.6,62],[71.8,70],[72.0,65]];

const ws10 = [[0,0.73],[0.11,0.1],[0.33,1.35],[0.54,2.98],[0.76,1.98],[0.98,2.98],[1.2,1.85],[1.42,2.6],[1.57,0.6],[1.75,1.85],[1.97,1.1],[2.18,1.35],[2.4,0.6],[2.62,1.48],[2.84,0.23],[3.06,1.1],[3.28,1.6],[3.49,0.85],[3.71,1.35],[3.93,0.85],[4.15,1.23],[4.37,2.1],[4.59,0.85],[4.81,1.23],[5.02,0.6],[5.24,1.35],[5.46,0.73],[5.68,2.35],[5.9,0.85],[6.12,1.6],[6.33,0.85],[6.55,1.35],[6.77,0.35],[6.99,0.23],[7.21,0.6],[7.43,1.35],[7.65,0.73],[7.86,1.6],[8.08,0.85],[8.3,1.85],[8.52,1.1],[8.74,0.6],[8.96,1.35],[9.17,0.23],[9.39,1.85],[9.5,4.48],[9.61,1.85],[9.83,3.1],[10.05,1.85],[10.27,3.6],[10.48,2.35],[10.7,1.35],[10.92,3.35],[11.14,1.85],[11.36,2.6],[11.58,3.6],[11.8,2.35],[12.01,5.1],[12.23,2.85],[12.45,3.85],[12.67,2.1],[12.89,3.1],[13.11,1.1],[13.32,3.35],[13.54,2.35],[13.76,4.1],[13.98,2.6],[14.2,1.1],[14.42,3.23],[14.64,2.1],[14.85,2.98],[15.07,1.98],[15.29,2.85],[15.51,1.85],[15.73,2.6],[15.95,1.6],[16.16,2.35],[16.38,1.85],[16.6,2.6],[16.82,1.6],[17.04,2.35],[17.26,1.35],[17.48,2.1],[17.69,2.98],[17.91,1.35],[18.13,2.35],[18.35,1.48],[18.57,2.35],[18.79,1.85],[19.0,2.98],[19.22,2.35],[19.55,3.35],[19.77,1.85],[19.99,1.48],[20.21,0.35],[20.42,1.1],[20.64,0.73],[20.86,1.1],[21.08,0.6],[21.3,0.85],[21.52,0.35],[21.73,0.85],[21.95,0.6],[22.17,1.35],[22.39,0.85],[22.61,2.35],[22.83,1.85],[23.04,2.6],[23.2,2.4],[23.4,2.0],[23.6,1.4],[23.8,2.2],[24.0,2.6],[24.2,1.8],[24.4,1.5],[24.6,1.1],[24.8,1.6],[25.0,1.4],[25.2,2.2],[25.4,2.7],[25.6,2.2],[25.8,3.0],[26.0,2.0],[26.2,1.6],[26.4,1.2],[26.6,0.9],[26.8,1.6],[27.0,1.2],[27.2,0.5],[27.4,0.9],[27.6,1.4],[27.8,1.1],[28.0,1.6],[28.2,2.2],[28.4,1.6],[28.6,2.6],[28.8,2.0],[29.0,1.6],[29.2,2.4],[29.4,2.0],[29.6,1.5],[29.8,1.8],[30.0,1.0],[30.2,1.4],[30.4,1.9],[30.6,1.5],[30.8,2.6],[31.0,2.0],[31.2,1.4],[31.4,1.8],[31.6,1.3],[31.8,2.2],[32.0,1.6],[32.2,1.0],[32.4,1.4],[32.6,1.8],[32.8,1.3],[33.0,2.2],[33.2,1.8],[33.4,1.4],[33.6,2.2],[33.8,2.6],[34.0,2.2],[34.2,3.2],[34.4,3.6],[34.6,2.6],[34.8,2.8],[35.0,3.8],[35.1,4.6],[35.3,3.4],[35.5,3.0],[35.7,2.4],[35.9,2.0],[36.1,3.2],[36.3,4.2],[36.5,4.8],[36.6,5.5],[36.8,4.0],[37.0,3.4],[37.2,3.0],[37.4,3.8],[37.6,4.6],[37.8,3.6],[38.0,4.0],[38.2,3.2],[38.4,2.8],[38.6,2.2],[38.8,2.0],[39.0,2.6],[39.2,2.2],[39.4,1.6],[39.6,1.5],[39.8,1.9],[40.0,1.3],[40.2,1.0],[40.4,0.8],[40.6,0.6],[40.8,0.5],[41.0,0.9],[41.2,1.2],[41.4,0.8],[41.6,1.0],[41.8,0.6],[42.0,0.7],[42.2,0.4],[42.4,0.6],[42.6,1.2],[42.8,0.9],[43.0,1.5],[43.2,1.1],[43.4,0.8],[43.6,0.5],[43.8,0.3],[44.0,0.6],[44.2,0.9],[44.4,1.2],[44.6,1.0],[44.8,1.6],[45.0,1.3],[45.2,2.0],[45.4,1.6],[45.6,1.3],[45.8,1.0],[46.0,1.4],[46.2,1.8],[46.4,1.4],[46.6,1.2],[46.8,1.8],[47.0,2.4],[47.2,1.8],[47.4,2.0],[47.6,1.6],[47.8,1.4],[48.0,1.0],[48.2,1.5],[48.4,1.8],[48.6,1.3],[48.8,1.5],[49.0,2.0],[49.2,2.4],[49.4,1.7],[49.6,2.0],[49.8,1.4],[50.0,1.2],[50.2,1.0],[50.4,1.6],[50.6,2.0],[50.8,1.5],[51.0,2.5],[51.2,1.9],[51.4,1.6],[51.6,1.2],[51.8,1.6],[52.0,2.1],[52.2,2.6],[52.4,2.0],[52.6,1.6],[52.8,1.4],[53.0,1.8],[53.2,1.0],[53.4,1.6],[53.6,2.2],[53.8,2.5],[54.0,2.0],[54.2,1.8],[54.4,2.4],[54.6,1.5],[54.8,2.2],[55.0,2.8],[55.2,3.5],[55.4,2.8],[55.6,2.4],[55.8,2.0],[56.0,2.6],[56.2,2.0],[56.4,3.2],[56.6,2.6],[56.8,3.0],[57.0,2.4],[57.2,2.2],[57.4,2.8],[57.6,2.0],[57.8,2.6],[58.0,3.0],[58.2,3.5],[58.4,2.8],[58.6,2.6],[58.8,2.0],[59.0,2.5],[59.2,3.4],[59.4,2.8],[59.6,3.0],[59.8,2.4],[60.0,2.2],[60.2,2.8],[60.4,2.0],[60.6,2.6],[60.8,3.2],[61.0,3.0],[61.2,2.4],[61.4,2.2],[61.6,1.8],[61.8,1.5],[62.0,2.0],[62.2,2.6],[62.4,2.2],[62.6,2.5],[62.8,1.8],[63.0,2.2],[63.2,2.0],[63.4,2.4],[63.6,2.8],[63.8,2.4],[64.0,3.0],[64.2,2.6],[64.4,2.2],[64.6,1.8],[64.8,1.5],[65.0,2.0],[65.2,2.4],[65.4,2.5],[65.6,2.0],[65.8,1.6],[66.0,1.8],[66.2,2.0],[66.4,2.4],[66.6,2.8],[66.8,2.6],[67.0,3.0],[67.2,2.0],[67.4,1.8],[67.6,1.5],[67.8,2.0],[68.0,2.6],[68.2,3.0],[68.4,2.8],[68.6,2.2],[68.8,2.0],[69.0,1.0],[69.2,1.4],[69.4,1.8],[69.6,2.4],[69.8,2.5],[70.0,2.0],[70.2,1.5],[70.4,0.8],[70.5,0.5],[70.7,0.9],[70.9,1.2],[71.1,2.0],[71.3,2.4],[71.5,2.8],[71.7,3.2],[71.8,3.8],[72.0,3.5]];

const ws75 = [[0,1.35],[0.15,0.66],[0.32,2.1],[0.48,2.98],[0.6,3.85],[0.76,4.16],[0.98,4.6],[1.2,4.73],[1.35,4.35],[1.53,3.85],[1.64,1.48],[1.85,3.16],[2.07,2.48],[2.29,2.98],[2.51,1.85],[2.73,2.1],[2.95,1.35],[3.17,2.35],[3.39,3.48],[3.61,2.85],[3.83,4.1],[4.05,5.1],[4.2,5.35],[4.37,4.48],[4.59,5.23],[4.81,4.6],[5.03,4.98],[5.24,4.6],[5.46,4.85],[5.68,4.6],[6.01,3.48],[6.34,2.6],[6.55,1.48],[6.77,0.48],[6.99,0.35],[7.2,3.1],[7.42,1.85],[7.64,2.35],[7.86,3.35],[8.08,1.73],[8.3,2.98],[8.51,3.48],[8.73,1.35],[8.95,2.23],[9.13,0.6],[9.28,2.85],[9.5,3.23],[9.72,2.35],[9.94,3.23],[10.16,1.85],[10.37,3.35],[10.59,1.35],[10.81,2.98],[11.03,3.6],[11.25,4.48],[11.47,3.23],[11.69,4.1],[11.9,3.1],[12.08,4.73],[12.23,6.54],[12.34,5.1],[12.5,5.85],[12.67,4.73],[12.89,5.35],[13.1,3.85],[13.32,5.1],[13.54,4.1],[13.65,5.9],[13.87,4.48],[14.09,5.35],[14.31,3.6],[14.53,5.23],[14.75,4.1],[14.96,5.48],[15.18,4.35],[15.4,5.73],[15.62,4.1],[15.83,5.1],[16.05,3.85],[16.27,4.35],[16.49,3.35],[16.7,4.1],[16.92,3.6],[17.14,4.35],[17.36,3.35],[17.57,4.23],[17.79,3.85],[18.01,4.1],[18.34,3.85],[18.67,4.6],[19.0,5.23],[19.22,5.6],[19.44,6.35],[19.59,6.85],[19.77,6.35],[19.92,5.23],[20.1,5.35],[20.31,4.1],[20.53,2.98],[20.75,4.48],[20.97,3.6],[21.18,4.1],[21.4,2.98],[21.62,3.85],[21.84,2.48],[22.06,3.1],[22.28,1.48],[22.5,3.85],[22.68,5.98],[22.94,5.48],[23.16,7.1],[23.3,7.4],[23.4,7.6],[23.5,7.2],[23.6,6.8],[23.75,6.9],[23.9,6.2],[24.0,5.8],[24.15,5.2],[24.3,5.0],[24.45,4.4],[24.6,4.2],[24.75,3.6],[24.9,3.9],[25.0,3.2],[25.15,3.6],[25.3,2.9],[25.45,3.3],[25.6,2.8],[25.75,3.6],[25.9,3.2],[26.05,4.1],[26.2,3.3],[26.35,2.8],[26.5,3.8],[26.65,3.1],[26.8,3.5],[26.95,2.5],[27.1,2.2],[27.25,3.0],[27.4,2.8],[27.55,1.8],[27.7,1.0],[27.85,0.6],[28.0,0.3],[28.15,1.2],[28.3,1.8],[28.45,1.0],[28.6,1.2],[28.75,2.0],[28.9,2.5],[29.05,2.2],[29.2,3.8],[29.35,3.2],[29.5,4.6],[29.6,4.2],[29.7,5.5],[29.85,4.8],[30.0,4.2],[30.15,3.5],[30.3,3.0],[30.45,2.4],[30.6,2.2],[30.75,3.0],[30.9,3.6],[31.05,2.6],[31.2,1.6],[31.35,2.5],[31.5,2.8],[31.65,2.0],[31.8,1.5],[31.95,2.4],[32.1,3.2],[32.25,2.6],[32.4,2.0],[32.55,3.0],[32.7,2.4],[32.8,3.6],[32.95,2.6],[33.1,1.5],[33.25,2.2],[33.4,3.3],[33.55,2.8],[33.7,2.0],[33.85,2.2],[34.0,3.0],[34.15,4.0],[34.3,3.5],[34.45,5.5],[34.6,4.6],[34.75,4.5],[34.9,5.8],[35.05,6.8],[35.2,5.6],[35.35,5.2],[35.5,6.0],[35.65,6.4],[35.8,5.0],[35.95,4.0],[36.1,5.2],[36.25,6.2],[36.4,4.8],[36.55,3.2],[36.7,4.5],[36.85,5.8],[37.0,5.0],[37.15,4.8],[37.3,6.0],[37.45,7.6],[37.6,6.8],[37.75,5.2],[37.9,6.2],[38.05,6.5],[38.2,5.4],[38.35,4.6],[38.5,5.2],[38.65,5.4],[38.8,4.0],[38.95,3.2],[39.1,3.8],[39.25,3.6],[39.4,2.8],[39.55,2.4],[39.7,2.0],[39.85,1.6],[40.0,1.3],[40.15,1.0],[40.3,0.6],[40.45,0.3],[40.6,0.8],[40.75,1.2],[40.9,1.6],[41.05,1.8],[41.2,1.2],[41.35,0.8],[41.5,1.4],[41.65,1.6],[41.8,1.0],[41.95,1.4],[42.1,1.0],[42.25,0.5],[42.4,1.2],[42.55,2.4],[42.7,1.8],[42.85,1.5],[43.0,1.0],[43.15,0.8],[43.3,1.4],[43.45,1.8],[43.6,1.0],[43.75,0.2],[43.9,0.4],[44.05,0.6],[44.2,1.2],[44.35,1.5],[44.5,1.0],[44.65,0.8],[44.8,1.6],[44.95,2.4],[45.1,2.8],[45.25,3.4],[45.4,4.2],[45.55,5.0],[45.7,5.6],[45.8,6.0],[45.95,5.8],[46.1,5.5],[46.25,5.0],[46.4,4.8],[46.55,5.3],[46.7,5.6],[46.85,4.9],[47.0,4.5],[47.15,5.0],[47.3,5.2],[47.45,4.6],[47.6,4.0],[47.75,4.8],[47.9,5.6],[48.05,6.0],[48.1,6.5],[48.25,5.6],[48.4,5.0],[48.55,5.4],[48.7,5.8],[48.85,5.0],[49.0,4.5],[49.15,5.0],[49.3,5.6],[49.45,4.6],[49.6,3.8],[49.75,4.6],[49.9,5.2],[50.05,4.8],[50.2,4.2],[50.35,4.8],[50.5,5.4],[50.65,4.5],[50.8,3.8],[50.95,4.2],[51.1,4.8],[51.25,4.4],[51.4,4.0],[51.55,4.6],[51.7,5.2],[51.85,5.8],[52.0,6.6],[52.15,5.4],[52.3,4.5],[52.45,5.2],[52.6,6.2],[52.75,5.0],[52.9,4.0],[53.05,4.8],[53.2,5.6],[53.35,4.5],[53.5,3.5],[53.65,4.6],[53.8,5.8],[53.95,4.4],[54.1,3.2],[54.25,4.8],[54.4,6.0],[54.55,4.8],[54.7,3.8],[54.85,4.5],[55.0,5.2],[55.15,4.0],[55.3,3.0],[55.45,4.0],[55.6,4.8],[55.75,4.0],[55.9,3.4],[56.05,4.4],[56.2,5.5],[56.35,4.0],[56.5,2.8],[56.65,3.8],[56.8,4.6],[56.95,4.0],[57.1,3.6],[57.25,4.4],[57.4,5.0],[57.55,3.8],[57.7,2.5],[57.85,3.4],[58.0,4.4],[58.15,3.8],[58.3,3.2],[58.45,4.2],[58.6,5.2],[58.75,4.0],[58.9,2.8],[59.05,3.6],[59.2,4.2],[59.35,3.2],[59.5,2.2],[59.65,3.4],[59.8,4.5],[59.95,3.8],[60.1,3.0],[60.25,4.0],[60.4,4.8],[60.55,3.6],[60.7,2.6],[60.85,3.4],[61.0,4.0],[61.15,3.2],[61.3,2.5],[61.45,3.2],[61.6,3.8],[61.75,3.0],[61.9,2.2],[62.05,3.2],[62.2,4.2],[62.35,3.5],[62.5,2.8],[62.65,3.2],[62.8,3.6],[62.95,2.8],[63.1,2.0],[63.25,2.8],[63.4,3.5],[63.55,3.0],[63.7,2.6],[63.85,3.4],[64.0,4.0],[64.15,3.2],[64.3,2.5],[64.45,3.0],[64.6,3.6],[64.75,2.8],[64.9,2.0],[65.05,2.6],[65.2,3.2],[65.35,2.8],[65.5,2.4],[65.65,3.0],[65.8,3.5],[65.95,2.8],[66.1,2.2],[66.25,2.8],[66.4,3.3],[66.55,3.0],[66.7,2.5],[66.85,3.4],[67.0,4.0],[67.15,3.4],[67.3,2.8],[67.45,3.8],[67.6,4.5],[67.75,3.8],[67.9,3.2],[68.05,4.2],[68.2,5.0],[68.35,4.0],[68.5,3.2],[68.65,3.8],[68.8,4.5],[68.95,3.2],[69.1,2.2],[69.25,3.0],[69.4,3.5],[69.55,4.0],[69.7,4.5],[69.8,5.0],[69.9,5.5],[70.0,4.6],[70.1,5.6],[70.2,4.2],[70.3,3.0],[70.45,1.8],[70.6,3.5],[70.7,4.8],[70.8,4.2],[70.9,5.5],[71.0,6.3],[71.1,5.8],[71.15,5.2],[71.3,2.9],[71.4,4.2],[71.5,5.8],[71.6,5.0],[71.7,4.6],[71.8,5.8],[71.85,6.3],[71.95,5.5],[72.0,5.0]];

// ---------- styling ----------
const C_LIGHT = "#c7eae5", C_BROWN = "#8c510a", C_DARK = "#01665e";
const FONT = "Liberation Sans, Arial, Helvetica, sans-serif";
const X_LEFT = 136, X_RIGHT = 1256.7, XDOM = [-0.70, 72.72];

const panels = [
  {top:180, bottom:375, y:[987.867, 994.356], ticks:presTicks, minor:presMinor, band:presBand, fmt:d=>String(d),
   title:"Atm. Pressure (hPa)", legX:1288,
   series:[{d:pres10, c:C_LIGHT, w:2.2, l:legendPres[0]}]},
  {top:420, bottom:675, y:[18, 103], ticks:rhTicks, minor:rhMinor, band:rhBand, fmt:d=>String(d),
   title:"Rel. Humidity (%)", legX:1283,
   series:[{d:rh10, c:C_LIGHT, w:2.2, l:legendRH[0]},{d:rh50, c:C_BROWN, w:2.2, l:legendRH[1]},{d:rh75, c:C_DARK, w:2.4, l:legendRH[2]}]},
  {top:720.7, bottom:975.3, y:[1.29, 19.58], ticks:tempTicks, minor:tempMinor, band:tempBand, fmt:d=>String(d),
   title:"Atm. Temperature (°C)", legX:1283,
   series:[{d:temp10, c:C_LIGHT, w:2.2, l:legendTemp[0]},{d:temp50, c:C_BROWN, w:2.2, l:legendTemp[1]},{d:temp75, c:C_DARK, w:2.4, l:legendTemp[2]}]},
  {top:1020.7, bottom:1275, y:[-74.7, 380.8], ticks:dirTicks, minor:dirMinor, band:dirBand, fmt:d=>dirLabels[dirTicks.indexOf(d)],
   title:"Wind direction", legX:1283,
   series:[{d:wd10, c:C_LIGHT, w:2.2, l:legendWind[0]},{d:wd75, c:C_DARK, w:2.4, l:legendWind[1]}]},
  {top:1320.7, bottom:1575.3, y:[-1.474, 8.075], ticks:wsTicks, minor:wsMinor, band:wsBand, fmt:d=>String(d),
   title:"WS", legX:1283,
   series:[{d:ws10, c:C_LIGHT, w:2.2, l:legendWind[0]},{d:ws75, c:C_DARK, w:2.4, l:legendWind[1]}]}
];

const page = document.getElementById("page");
const MT = 10, MB = 45;

for (const p of panels) {
  const h = p.bottom - p.top;
  const marks = [
    Plot.rect([p.band], {x1: () => dayTicks[0], x2: () => dayTicks[3], y1: d => d[0], y2: d => d[1], fill: "#d9d9d9"}),
    Plot.ruleY(p.minor, {stroke: "#ebebeb", strokeWidth: 1, strokeOpacity: 0.9}),
    Plot.ruleY(p.ticks, {stroke: "#ebebeb", strokeWidth: 2}),
    Plot.ruleX(dayTicks, {stroke: "#cccccc", strokeWidth: 2})
  ];
  for (const s of p.series) {
    marks.push(Plot.line(s.d, {x: d => d[0], y: d => d[1], stroke: s.c, strokeWidth: s.w, strokeLinejoin: "round"}));
  }
  marks.push(Plot.frame({stroke: "#333333", strokeWidth: 1.6}));
  marks.push(Plot.axisY(p.ticks, {anchor: "left", tickSize: 6, tickPadding: 6, fontSize: 22, tickFormat: p.fmt, label: null, stroke: "#333", fill: "#111"}));
  marks.push(Plot.axisX(dayTicks, {anchor: "bottom", tickSize: 6, tickPadding: 6, fontSize: 22, tickFormat: d => dayLabels[dayTicks.indexOf(d)], label: null, stroke: "#333", fill: "#111"}));
  const svg = Plot.plot({
    width: 1500, height: h + MT + MB,
    marginLeft: X_LEFT, marginRight: 1500 - X_RIGHT, marginTop: MT, marginBottom: MB,
    x: {domain: XDOM},
    y: {domain: p.y},
    style: {fontFamily: FONT, fontSize: "22px", background: "transparent", color: "#111", overflow: "visible"},
    marks
  });
  svg.style.position = "absolute";
  svg.style.left = "0px";
  svg.style.top = (p.top - MT) + "px";
  page.appendChild(svg);
}

// ---------- overlay text: header, axis titles, legends ----------
const ov = d3.select(page).append("svg").attr("width", 1500).attr("height", 1725)
  .style("position", "absolute").style("left", "0px").style("top", "0px")
  .style("font-family", FONT);

// logo
ov.append("text").attr("x", 12).attr("y", 85).attr("font-family", "Open Sans, sans-serif").attr("font-weight", 700)
  .attr("font-size", 72).attr("fill", "#434343").text("ICOS");
ov.append("line").attr("x1", 193).attr("x2", 193).attr("y1", 17).attr("y2", 102).attr("stroke", "#434343").attr("stroke-width", 2.5);
[[217, "#e6336e"], [231, "#1e9ae6"], [245, "#e6336e"]].forEach(([cx, c]) =>
  ov.append("circle").attr("cx", cx).attr("cy", 22).attr("r", 4.5).attr("fill", c));
[["Atmosphere", 47], ["Thematic", 65.5], ["Centre", 84]].forEach(([t, y]) =>
  ov.append("text").attr("x", 212).attr("y", y).attr("font-family", FONT).attr("font-weight", 700)
    .attr("font-size", 15.8).attr("letter-spacing", 0.7).attr("fill", "#434343").text(t));

// titles
ov.append("text").attr("x", 750).attr("y", 63).attr("text-anchor", "middle").attr("font-size", 41.4).text("BIR - Meteo - Last 3 days snapshot");
ov.append("text").attr("x", 751).attr("y", 119).attr("text-anchor", "middle").attr("font-size", 30).text("2025-05-08 - 2025-05-11");
ov.append("text").attr("x", 699).attr("y", 159).attr("text-anchor", "middle").attr("font-size", 30).text("Ambient air (raw data)");
ov.append("text").attr("x", 1484).attr("y", 32).attr("text-anchor", "end").attr("font-size", 21).text("P0005.4 / plot generated everyday");
ov.append("text").attr("x", 1484).attr("y", 55).attr("text-anchor", "end").attr("font-size", 21).text("update\u00A0 2025-05-11 05:17");

// y-axis titles and legends
for (const p of panels) {
  const cy = (p.top + p.bottom) / 2;
  const t = ov.append("text").attr("transform", `translate(42,${cy}) rotate(-90)`).attr("text-anchor", "middle").attr("font-size", 28.5);
  if (p.title === "WS") {
    t.append("tspan").text("Wind speed (m.s");
    t.append("tspan").attr("font-size", 19).attr("dy", -12).text("\u22121");
    t.append("tspan").attr("dy", 12).text(")");
  } else t.text(p.title);
  const n = p.series.length;
  p.series.forEach((s, i) => {
    const y = cy + (i - (n - 1) / 2) * 29.5;
    ov.append("line").attr("x1", p.legX).attr("x2", p.legX + 23).attr("y1", y).attr("y2", y).attr("stroke", s.c).attr("stroke-width", 2.6);
    ov.append("text").attr("x", p.legX + 27).attr("y", y + 6.5).attr("font-size", 18).text(s.l);
  });
}

// bottom legend
ov.append("line").attr("x1", 183).attr("x2", 183).attr("y1", 1640).attr("y2", 1658).attr("stroke", "#5b9bd5").attr("stroke-width", 2);
ov.append("text").attr("x", 232).attr("y", 1658).attr("font-size", 26).text("Invalid data");
ov.append("line").attr("x1", 183).attr("x2", 183).attr("y1", 1677).attr("y2", 1695).attr("stroke", "#000").attr("stroke-width", 2);
ov.append("text").attr("x", 232).attr("y", 1695).attr("font-size", 26).text("No data generated");
</script></body></html>
